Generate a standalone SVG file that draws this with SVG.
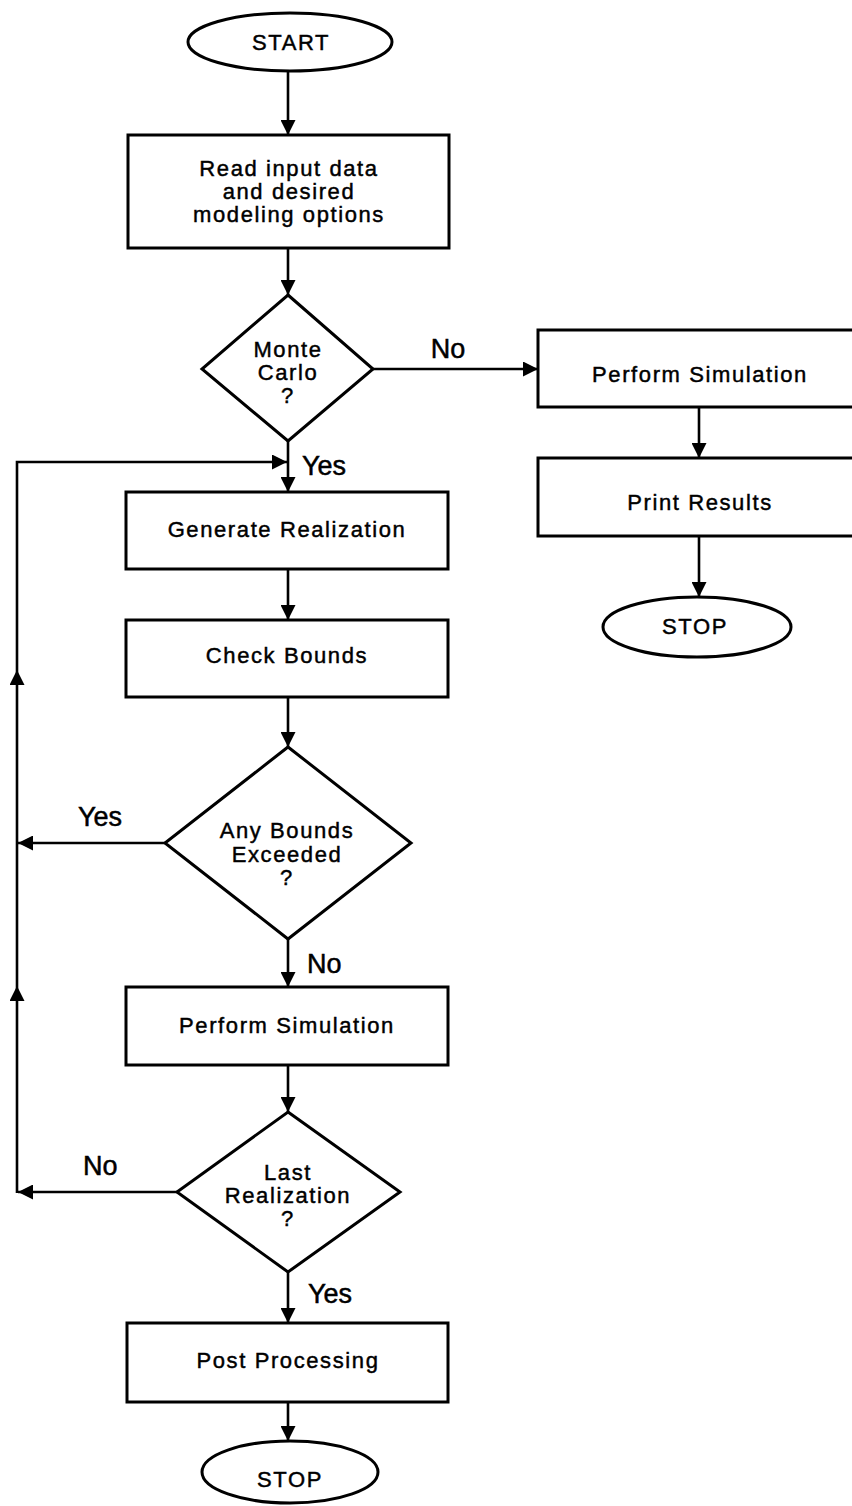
<svg xmlns="http://www.w3.org/2000/svg" width="852" height="1506" viewBox="0 0 852 1506">
<style>
.shape{fill:#fff;stroke:#000;stroke-width:3;}
.conn{fill:none;stroke:#000;stroke-width:2.6;}
.t{font-family:"Liberation Sans",Arial,Helvetica,sans-serif;font-size:22px;letter-spacing:1.6px;text-anchor:middle;fill:#000;stroke:#000;stroke-width:0.45;}
.lbl{font-family:"Liberation Sans",Arial,Helvetica,sans-serif;font-size:27px;fill:#000;stroke:#000;stroke-width:0.5;}
</style>
<defs>
<marker id="arr" markerUnits="userSpaceOnUse" viewBox="0 0 15 15" refX="15" refY="7.5" markerWidth="15" markerHeight="15" orient="auto">
<path d="M0,0 L15,7.5 L0,15 z" fill="#000"/>
</marker>
</defs>
<rect width="852" height="1506" fill="#fff"/>
<g id="connectors">
<path class="conn" d="M288,71 V135" marker-end="url(#arr)"/>
<path class="conn" d="M288,248 V295" marker-end="url(#arr)"/>
<path class="conn" d="M373,369 H538" marker-end="url(#arr)"/>
<path class="conn" d="M699,407 V458" marker-end="url(#arr)"/>
<path class="conn" d="M699,536 V597" marker-end="url(#arr)"/>
<path class="conn" d="M288,441 V492" marker-end="url(#arr)"/>
<path class="conn" d="M288,569 V620" marker-end="url(#arr)"/>
<path class="conn" d="M288,697 V747" marker-end="url(#arr)"/>
<path class="conn" d="M288,939 V987" marker-end="url(#arr)"/>
<path class="conn" d="M288,1065 V1112" marker-end="url(#arr)"/>
<path class="conn" d="M288,1272 V1323" marker-end="url(#arr)"/>
<path class="conn" d="M288,1402 V1441" marker-end="url(#arr)"/>
<path class="conn" d="M177,1192 H18" marker-end="url(#arr)"/>
<path class="conn" d="M17,1193 V986" marker-end="url(#arr)"/>
<path class="conn" d="M17,986 V843"/>
<path class="conn" d="M165,843 H18" marker-end="url(#arr)"/>
<path class="conn" d="M17,843 V670" marker-end="url(#arr)"/>
<path class="conn" d="M17,670 V462 H287" marker-end="url(#arr)"/>
<text class="lbl" x="448" y="358" text-anchor="middle">No</text>
<text class="lbl" x="302" y="475">Yes</text>
<text class="lbl" x="78" y="826">Yes</text>
<text class="lbl" x="307" y="973">No</text>
<text class="lbl" x="83" y="1175">No</text>
<text class="lbl" x="308" y="1303">Yes</text>
</g>
<g id="start">
<ellipse class="shape" cx="290" cy="42" rx="102" ry="29"/>
<text class="t" x="291" y="50">START</text>
</g>
<g id="read-input">
<rect class="shape" x="128" y="135" width="321" height="113"/>
<text class="t" x="289" y="176">Read input data</text>
<text class="t" x="289" y="199">and desired</text>
<text class="t" x="289" y="222">modeling options</text>
</g>
<g id="monte-carlo">
<polygon class="shape" points="288,295 373,369 288,441 202,369"/>
<text class="t" x="288" y="357">Monte</text>
<text class="t" x="288" y="380">Carlo</text>
<text class="t" x="288" y="403">?</text>
</g>
<g id="perform-simulation-1">
<rect class="shape" x="538" y="330" width="322" height="77"/>
<text class="t" x="700" y="382">Perform Simulation</text>
</g>
<g id="print-results">
<rect class="shape" x="538" y="458" width="322" height="78"/>
<text class="t" x="700" y="510">Print Results</text>
</g>
<g id="stop-1">
<ellipse class="shape" cx="697" cy="627" rx="94" ry="30"/>
<text class="t" x="695" y="634">STOP</text>
</g>
<g id="generate-realization">
<rect class="shape" x="126" y="492" width="322" height="77"/>
<text class="t" x="287" y="537">Generate Realization</text>
</g>
<g id="check-bounds">
<rect class="shape" x="126" y="620" width="322" height="77"/>
<text class="t" x="287" y="663">Check Bounds</text>
</g>
<g id="any-bounds-exceeded">
<polygon class="shape" points="288,747 411,843 288,939 165,843"/>
<text class="t" x="287" y="838">Any Bounds</text>
<text class="t" x="287" y="862">Exceeded</text>
<text class="t" x="287" y="885">?</text>
</g>
<g id="perform-simulation-2">
<rect class="shape" x="126" y="987" width="322" height="78"/>
<text class="t" x="287" y="1033">Perform Simulation</text>
</g>
<g id="last-realization">
<polygon class="shape" points="288,1112 400,1192 288,1272 177,1192"/>
<text class="t" x="288" y="1180">Last</text>
<text class="t" x="288" y="1203">Realization</text>
<text class="t" x="288" y="1226">?</text>
</g>
<g id="post-processing">
<rect class="shape" x="127" y="1323" width="321" height="79"/>
<text class="t" x="288" y="1368">Post Processing</text>
</g>
<g id="stop-2">
<ellipse class="shape" cx="290" cy="1472" rx="88" ry="31"/>
<text class="t" x="290" y="1487">STOP</text>
</g>
</svg>
